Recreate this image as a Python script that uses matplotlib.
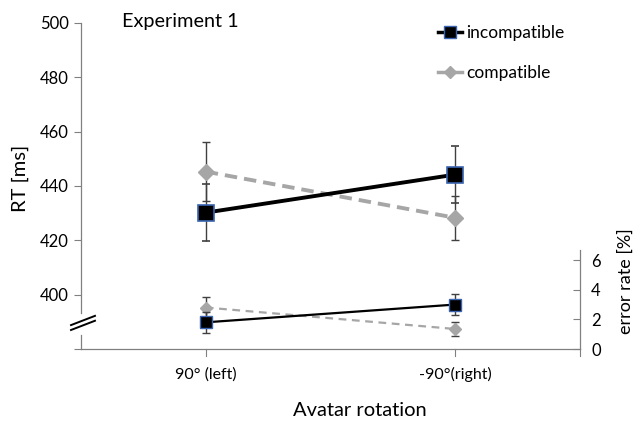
import matplotlib
matplotlib.use("Agg")
import matplotlib.pyplot as plt
from matplotlib.lines import Line2D

plt.rcParams['font.family'] = ['Lato', 'DejaVu Sans']

categories = ["90° (left)", "-90°(right)"]
rt_incompatible = [430.2, 444.2]
rt_incompatible_err = [10.5, 10.6]
rt_compatible = [445.3, 428.3]
rt_compatible_err = [11.0, 8.0]
err_incompatible = [1.8, 3.0]
err_incompatible_sd = [0.7, 0.7]
err_compatible = [2.8, 1.35]
err_compatible_sd = [0.7, 0.5]
rt_ticks = [380, 400, 420, 440, 460, 480, 500]
rt_ticklabels = ["", "400", "420", "440", "460", "480", "500"]
er_ticks = [0, 2, 4, 6]

W, H = 640, 421
fig = plt.figure(figsize=(6.4, 4.21), dpi=100)
L, R, T, B = 81, 580, 23, 349
ax = fig.add_axes([L / W, 1 - B / H, (R - L) / W, (B - T) / H])
x = [0.5, 1.5]
ax.set_xlim(0, 2)
ax.set_ylim(380, 500)

blue_edge = '#3a64b0'
gray = '#a6a6a6'
ecol = '#404040'
axcol = '#808080'

ax.errorbar(x, rt_compatible, yerr=rt_compatible_err, color=gray, lw=2.8, ls=(0, (3.2, 1.8)),
            marker='D', ms=8, mfc=gray, mec=gray, ecolor=ecol, elinewidth=1, capsize=3, capthick=1, zorder=3)
ax.errorbar(x, rt_incompatible, yerr=rt_incompatible_err, color='black', lw=2.8,
            marker='s', ms=11, mfc='black', mec=blue_edge, mew=1.2, ecolor=ecol, elinewidth=1,
            capsize=3, capthick=1, zorder=4)

ax.set_yticks(rt_ticks)
ax.set_yticklabels(rt_ticklabels)
ax.set_xticks(x)
ax.set_xticklabels(categories)
ax.tick_params(axis='y', direction='out', length=5, width=0.8, color=axcol, labelsize=12, pad=4)
ax.tick_params(axis='x', direction='in', length=0, labelsize=11.5, pad=13)
for xi in x + [2]:
    ax.plot([xi, xi], [380, 377.5], color=axcol, lw=0.8, clip_on=False)
for s in ['top', 'right']:
    ax.spines[s].set_visible(False)
ax.spines['left'].set_bounds(393.3, 500)
for s in ['left', 'bottom']:
    ax.spines[s].set_color(axcol)
    ax.spines[s].set_linewidth(0.9)
ax.plot([0, 0], [380, 385.1], color=axcol, lw=0.9, clip_on=False)

# axis break marks
ax.plot([-0.04, 0.056], [388.8, 392.2], color='black', lw=1.4, clip_on=False, zorder=6)
ax.plot([-0.04, 0.056], [387.0, 390.4], color='black', lw=1.4, clip_on=False, zorder=6)

# error rate axis
ax2 = ax.twinx()
ax2.set_ylim(0, 22)
ax2.errorbar(x, err_compatible, yerr=err_compatible_sd, color=gray, lw=1.6, ls=(0, (3.5, 2.5)),
             marker='D', ms=6, mfc=gray, mec=gray, ecolor=ecol, elinewidth=1, capsize=3, capthick=1, zorder=3)
ax2.errorbar(x, err_incompatible, yerr=err_incompatible_sd, color='black', lw=1.6,
             marker='s', ms=8, mfc='black', mec=blue_edge, mew=1.0, ecolor=ecol, elinewidth=1,
             capsize=3, capthick=1, zorder=4)
ax2.set_yticks(er_ticks)
ax2.spines['right'].set_bounds(0, 6.7)
ax2.spines['right'].set_color(axcol)
ax2.spines['right'].set_linewidth(0.9)
for s in ['top', 'left', 'bottom']:
    ax2.spines[s].set_visible(False)
ax2.tick_params(axis='y', direction='in', length=5, width=0.8, color=axcol, labelsize=12, pad=8)

fig.text(20 / W, 1 - 178 / H, "RT [ms]", rotation=90, ha='center', va='center', fontsize=14.5)
fig.text(626 / W, 1 - 281 / H, "error rate [%]", rotation=90, ha='center', va='center', fontsize=13)
fig.text(360 / W, 1 - 411 / H, "Avatar rotation", ha='center', va='center', fontsize=14.5)
fig.text(122 / W, 1 - 21 / H, "Experiment 1", ha='left', va='center', fontsize=14.3)

handles = [
    Line2D([], [], color='black', lw=2.5, marker='s', ms=8, mfc='black', mec=blue_edge),
    Line2D([], [], color=gray, lw=2.5, marker='D', ms=6, mfc=gray, mec=gray),
]
fig.legend(handles, ["incompatible", "compatible"], loc='upper left',
           bbox_to_anchor=(426 / W, 1 - 13 / H), frameon=False, fontsize=12.5,
           handlelength=1.4, handletextpad=0.2, labelspacing=1.4, borderpad=0.2)

fig.savefig("out.png", dpi=100)
